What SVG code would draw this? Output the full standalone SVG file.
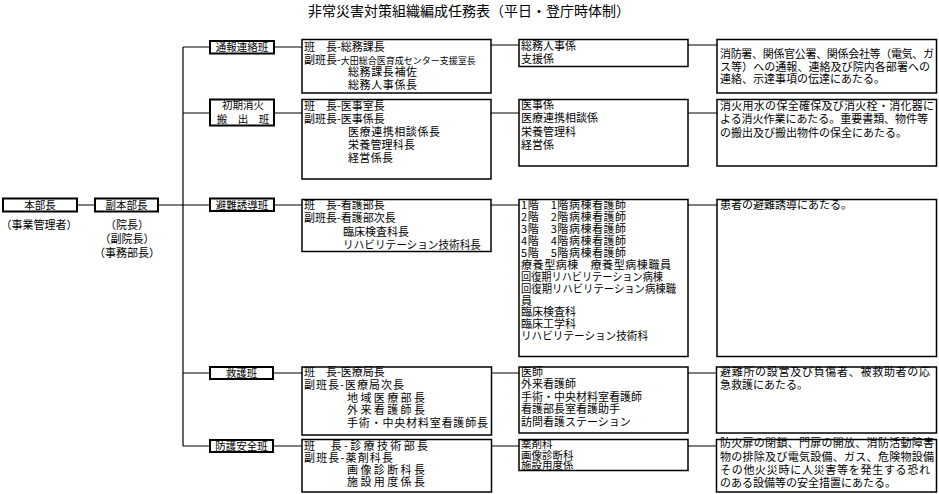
<svg xmlns="http://www.w3.org/2000/svg" width="939" height="494" viewBox="0 0 939 494">
<style>
text{font-family:"Noto Sans CJK JP","Noto Sans CJK SC",sans-serif;font-size:11px;fill:#000}
tspan{font-family:inherit}
.t{font-size:14px}
.b{fill:#fff;stroke:#000;stroke-width:1.5}
.tb{fill:#fff;stroke:#000;stroke-width:2}
.tt{font-size:10.5px;text-anchor:middle}
.c{stroke:#000;stroke-width:1.2;fill:none}
.m{text-anchor:middle}
.s{font-size:9px}
</style>
<rect width="939" height="494" fill="#fff"/>
<text class="t m" x="469" y="16">非常災害対策組織編成任務表（平日・登庁時体制）</text>

<g id="connectors">
<path class="c" d="M77,205H94M158,205H183M183,47V446"/>
<path class="c" d="M183,47H210M274,47H302M491,45H519M688,45H717"/>
<path class="c" d="M183,113H210M274,113H302M491,113H519M688,113H717"/>
<path class="c" d="M183,205H210M274,205H302M491,205H519M688,205H717"/>
<path class="c" d="M183,373H210M274,373H302M491,373H519M688,373H717"/>
<path class="c" d="M183,446H210M274,446H302M491,446H519M688,446H717"/>
</g>

<g id="honbucho">
<rect class="tb" x="3" y="198.5" width="74" height="13"/>
<text class="tt" x="40" y="209">本部長</text>
<text class="m" x="39" y="229">（事業管理者）</text>
</g>
<g id="fukuhonbucho">
<rect class="tb" x="95" y="198.5" width="63" height="13"/>
<text class="tt" x="126.5" y="209">副本部長</text>
<text class="m" x="127" y="229"><tspan x="127">（院長）</tspan><tspan x="127" dy="14">（副院長）</tspan><tspan x="127" dy="14">（事務部長）</tspan></text>
</g>

<!-- Row 1 -->
<g id="tsuho">
<rect class="tb" x="210" y="41" width="64" height="12.5"/>
<text class="tt" x="242" y="51">通報連絡班</text>
</g>
<g id="tsuho-leader">
<rect class="b" x="302" y="39.5" width="189" height="53.5"/>
<text x="304" y="51"><tspan x="304">班　長-総務課長</tspan><tspan x="304" dy="12.5">副班長-<tspan class="s">大田総合医育成センター支援室長</tspan></tspan><tspan x="348" dy="12.5" textLength="69" lengthAdjust="spacing">総務課長補佐</tspan><tspan x="348" dy="12.5" textLength="69" lengthAdjust="spacing">総務人事係長</tspan></text>
</g>
<g id="tsuho-members">
<rect class="b" x="519" y="39.5" width="169" height="27"/>
<text x="521" y="50"><tspan x="521">総務人事係</tspan><tspan x="521" dy="13">支援係</tspan></text>
</g>
<g id="tsuho-duty">
<rect class="b" x="717" y="39.5" width="219.5" height="53.5"/>
<text x="720" y="58"><tspan x="720" textLength="214" lengthAdjust="spacing">消防署、関係官公署、関係会社等（電気、ガ</tspan><tspan x="720" dy="12.7" textLength="210" lengthAdjust="spacing">ス等）への通報、連絡及び院内各部署への</tspan><tspan x="720" dy="12.7">連絡、示達事項の伝達にあたる。</tspan></text>
</g>

<!-- Row 2 -->
<g id="shoki">
<rect class="tb" x="210" y="99.5" width="64" height="26"/>
<text class="tt" x="243" y="109"><tspan x="243">初期消火</tspan><tspan x="243" dy="13.5">搬　出　班</tspan></text>
</g>
<g id="shoki-leader">
<rect class="b" x="302" y="99.5" width="189" height="79.5"/>
<text x="304" y="110"><tspan x="304">班　長-医事室長</tspan><tspan x="304" dy="13">副班長-医事係長</tspan><tspan x="348" dy="13" textLength="92" lengthAdjust="spacing">医療連携相談係長</tspan><tspan x="348" dy="13" textLength="67" lengthAdjust="spacing">栄養管理科長</tspan><tspan x="348" dy="13" textLength="45" lengthAdjust="spacing">経営係長</tspan></text>
</g>
<g id="shoki-members">
<rect class="b" x="519" y="99.5" width="169" height="66.5"/>
<text x="521" y="109"><tspan x="521">医事係</tspan><tspan x="521" dy="13.3">医療連携相談係</tspan><tspan x="521" dy="13.3">栄養管理科</tspan><tspan x="521" dy="13.3">経営係</tspan></text>
</g>
<g id="shoki-duty">
<rect class="b" x="717" y="99.5" width="219.5" height="66.5"/>
<text x="720" y="110"><tspan x="720" textLength="214" lengthAdjust="spacing">消火用水の保全確保及び消火栓・消化器に</tspan><tspan x="720" dy="13.3" textLength="208" lengthAdjust="spacing">よる消火作業にあたる。重要書類、物件等</tspan><tspan x="720" dy="13.3">の搬出及び搬出物件の保全にあたる。</tspan></text>
</g>

<!-- Row 3 -->
<g id="hinan">
<rect class="tb" x="210" y="198.5" width="64" height="12.5"/>
<text class="tt" x="242" y="208.5">避難誘導班</text>
</g>
<g id="hinan-leader">
<rect class="b" x="302" y="199.5" width="189" height="52"/>
<text x="304" y="209"><tspan x="304">班　長-看護部長</tspan><tspan x="304" dy="13.3">副班長-看護部次長</tspan><tspan x="343" dy="13.3">臨床検査科長</tspan><tspan x="343" dy="13.3" textLength="138" lengthAdjust="spacingAndGlyphs">リハビリテーション技術科長</tspan></text>
</g>
<g id="hinan-members">
<rect class="b" x="519" y="199.5" width="169" height="157"/>
<text x="521" y="209"><tspan x="521" textLength="105" lengthAdjust="spacing">1階　1階病棟看護師</tspan><tspan x="521" dy="11.94" textLength="105" lengthAdjust="spacing">2階　2階病棟看護師</tspan><tspan x="521" dy="11.94" textLength="105" lengthAdjust="spacing">3階　3階病棟看護師</tspan><tspan x="521" dy="11.94" textLength="105" lengthAdjust="spacing">4階　4階病棟看護師</tspan><tspan x="521" dy="11.94" textLength="105" lengthAdjust="spacing">5階　5階病棟看護師</tspan><tspan x="521" dy="11.94" textLength="150" lengthAdjust="spacing">療養型病棟　療養型病棟職員</tspan><tspan x="521" dy="11.94" textLength="142" lengthAdjust="spacingAndGlyphs">回復期リハビリテーション病棟</tspan><tspan x="521" dy="11.94" textLength="155" lengthAdjust="spacingAndGlyphs">回復期リハビリテーション病棟職</tspan><tspan x="521" dy="11.94">員</tspan><tspan x="521" dy="11.94">臨床検査科</tspan><tspan x="521" dy="11.94">臨床工学科</tspan><tspan x="521" dy="11.94" textLength="127" lengthAdjust="spacingAndGlyphs">リハビリテーション技術科</tspan></text>
</g>
<g id="hinan-duty">
<rect class="b" x="717" y="199.5" width="219.5" height="157"/>
<text x="720" y="209">患者の避難誘導にあたる。</text>
</g>

<!-- Row 4 -->
<g id="kyugo">
<rect class="tb" x="210" y="367" width="63" height="12"/>
<text class="tt" x="241.5" y="377">救護班</text>
</g>
<g id="kyugo-leader">
<rect class="b" x="302" y="367" width="189.5" height="68"/>
<text x="304" y="375.7"><tspan x="304">班　長-医療局長</tspan><tspan x="304" dy="12.9" textLength="100" lengthAdjust="spacing">副班長-医療局次長</tspan><tspan x="347" dy="12.9" textLength="78" lengthAdjust="spacing">地域医療部長</tspan><tspan x="347" dy="12.9" textLength="78" lengthAdjust="spacing">外来看護師長</tspan><tspan x="347" dy="12.9" textLength="141" lengthAdjust="spacing">手術・中央材料室看護師長</tspan></text>
</g>
<g id="kyugo-members">
<rect class="b" x="519" y="367" width="169" height="66"/>
<text x="521" y="375.7"><tspan x="521">医師</tspan><tspan x="521" dy="12.5">外来看護師</tspan><tspan x="521" dy="12.5">手術・中央材料室看護師</tspan><tspan x="521" dy="12.5">看護部長室看護助手</tspan><tspan x="521" dy="12.5">訪問看護ステーション</tspan></text>
</g>
<g id="kyugo-duty">
<rect class="b" x="716.5" y="367" width="220" height="66"/>
<text x="720" y="375.7"><tspan x="720" textLength="210" lengthAdjust="spacing">避難所の設営及び負傷者、被救助者の応</tspan><tspan x="720" dy="13.3">急救護にあたる。</tspan></text>
</g>

<!-- Row 5 -->
<g id="bogo">
<rect class="tb" x="210" y="440" width="63" height="12"/>
<text class="tt" x="241.5" y="450">防護安全班</text>
</g>
<g id="bogo-leader">
<rect class="b" x="302" y="439.5" width="189.5" height="52.5"/>
<text x="304" y="449.7"><tspan x="304" textLength="124" lengthAdjust="spacing">班　長-診療技術部長</tspan><tspan x="304" dy="12" textLength="89" lengthAdjust="spacing">副班長-薬剤科長</tspan><tspan x="347" dy="12" textLength="78" lengthAdjust="spacing">画像診断科長</tspan><tspan x="347" dy="12" textLength="78" lengthAdjust="spacing">施設用度係長</tspan></text>
</g>
<g id="bogo-members">
<rect class="b" x="519" y="439.5" width="169" height="31"/>
<text x="521" y="448" style="font-size:10.5px"><tspan x="521">薬剤科</tspan><tspan x="521" dy="10.6">画像診断科</tspan><tspan x="521" dy="10.6">施設用度係</tspan></text>
</g>
<g id="bogo-duty">
<rect class="b" x="716.5" y="439.5" width="220" height="52.5"/>
<text x="720" y="447.3"><tspan x="720" textLength="214" lengthAdjust="spacing">防火扉の閉鎖、門扉の開放、消防活動障害</tspan><tspan x="720" dy="13.3" textLength="214" lengthAdjust="spacing">物の排除及び電気設備、ガス、危険物設備</tspan><tspan x="720" dy="13.3" textLength="210" lengthAdjust="spacing">その他火災時に人災害等を発生する恐れ</tspan><tspan x="720" dy="13.3">のある設備等の安全措置にあたる。</tspan></text>
</g>
</svg>
